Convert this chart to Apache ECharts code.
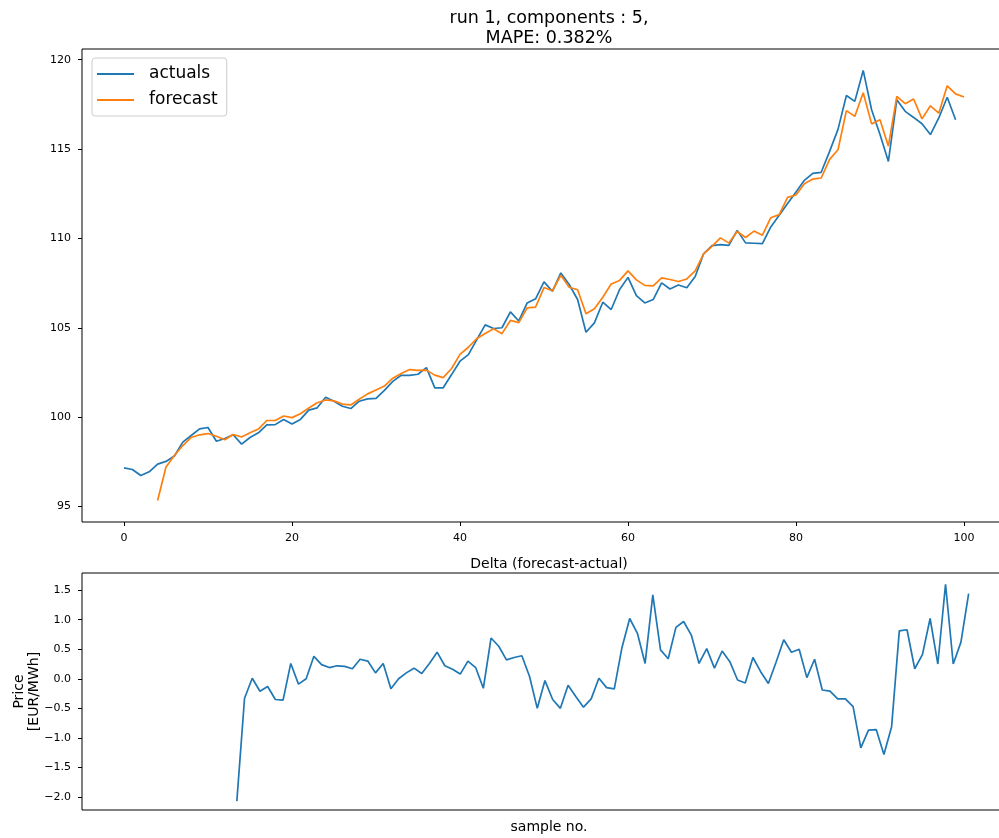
<!DOCTYPE html>
<html>
<head>
<meta charset="utf-8">
<script src="https://cdn.jsdelivr.net/npm/echarts@6/dist/echarts.min.js"></script>
<style>
  html, body { margin: 0; padding: 0; background: #fff; }
  #chart { width: 999px; height: 838px; }
</style>
</head>
<body>
<div id="chart"></div>
<script>
// Actual prices, sample 0..99
const actuals = [
  97.16, 97.07, 96.73, 96.94, 97.37, 97.52, 97.82, 98.60, 98.97, 99.34,
  99.42, 98.65, 98.80, 99.01, 98.49, 98.86, 99.12, 99.57, 99.58, 99.87,
  99.62, 99.87, 100.39, 100.52, 101.11, 100.89, 100.61, 100.48, 100.89, 101.02,
  101.05, 101.50, 102.00, 102.34, 102.34, 102.40, 102.77, 101.64, 101.64, 102.38,
  103.13, 103.50, 104.34, 105.16, 104.96, 105.00, 105.89, 105.38, 106.39, 106.62,
  107.57, 107.04, 108.07, 107.42, 106.58, 104.75, 105.27, 106.43, 106.02, 107.14,
  107.82, 106.80, 106.39, 106.58, 107.51, 107.17, 107.39, 107.24, 107.87, 109.14,
  109.60, 109.65, 109.61, 110.45, 109.75, 109.73, 109.71, 110.64, 111.29, 111.95,
  112.60, 113.25, 113.64, 113.70, 114.87, 116.10, 118.00, 117.67, 119.40, 117.20,
  115.81, 114.31, 117.76, 117.11, 116.77, 116.42, 115.81, 116.74, 117.90, 116.64
];

// Forecast prices, sample 4..100
const forecastStart = 4;
const forecast = [
  95.33, 97.21, 97.85, 98.41, 98.86, 99.01, 99.08, 98.93, 98.73, 99.03,
  98.89, 99.12, 99.33, 99.81, 99.81, 100.06, 99.97, 100.19, 100.51, 100.80,
  100.96, 100.91, 100.73, 100.68, 101.00, 101.30, 101.52, 101.74, 102.18, 102.44,
  102.66, 102.61, 102.63, 102.35, 102.21, 102.72, 103.51, 103.91, 104.40, 104.68,
  104.95, 104.67, 105.41, 105.29, 106.11, 106.16, 107.25, 107.07, 107.94, 107.27,
  107.13, 105.78, 106.06, 106.71, 107.45, 107.65, 108.18, 107.68, 107.37, 107.34,
  107.79, 107.70, 107.59, 107.73, 108.18, 109.14, 109.55, 110.03, 109.75, 110.39,
  110.05, 110.41, 110.18, 111.16, 111.33, 112.30, 112.43, 113.06, 113.32, 113.38,
  114.42, 114.96, 117.15, 116.83, 118.15, 116.41, 116.64, 115.16, 117.95, 117.54,
  117.80, 116.69, 117.42, 117.01, 118.54, 118.09, 117.91
];

// Forecast minus actual on the overlapping samples
const delta = [
  -2.07, -0.33, 0.01, -0.21, -0.13, -0.35, -0.36, 0.26, -0.09, 0.00,
  0.38, 0.24, 0.19, 0.22, 0.21, 0.17, 0.33, 0.30, 0.10, 0.26,
  -0.17, 0.00, 0.10, 0.18, 0.09, 0.26, 0.45, 0.22, 0.16, 0.08,
  0.30, 0.19, -0.16, 0.69, 0.55, 0.32, 0.36, 0.39, 0.04, -0.50,
  -0.03, -0.35, -0.50, -0.11, -0.30, -0.48, -0.34, 0.01, -0.15, -0.17,
  0.53, 1.02, 0.77, 0.26, 1.42, 0.49, 0.34, 0.87, 0.97, 0.74,
  0.26, 0.51, 0.18, 0.47, 0.29, -0.02, -0.07, 0.36, 0.12, -0.08,
  0.28, 0.66, 0.45, 0.50, 0.02, 0.33, -0.19, -0.21, -0.34, -0.34,
  -0.47, -1.17, -0.87, -0.86, -1.28, -0.81, 0.81, 0.83, 0.17, 0.41,
  1.02, 0.25, 1.60, 0.25, 0.62, 1.44
];

const topXTicks = [0, 20, 40, 60, 80, 100];
const topYTicks = [95, 100, 105, 110, 115, 120];
const deltaYTicks = [-2.0, -1.5, -1.0, -0.5, 0.0, 0.5, 1.0, 1.5];

const FONT = 'DejaVu Sans';
const BLUE = '#1f77b4';
const ORANGE = '#ff7f0e';

const fmt1 = v => (v < 0 ? '\u2212' : '') + Math.abs(v).toFixed(1);

const chart = echarts.init(document.getElementById('chart'), null, { renderer: 'canvas' });

function tickedAxis(extra, ticks, formatter, margin) {
  return Object.assign({
    type: 'value',
    axisLine: { show: false, onZero: false },
    splitLine: { show: false },
    axisTick: { show: true, inside: false, length: 4, customValues: ticks, lineStyle: { color: '#000', width: 1 } },
    axisLabel: { color: '#000', fontFamily: FONT, fontSize: 11, margin: margin, customValues: ticks, formatter: formatter }
  }, extra);
}

// Both panels run past the right edge of the canvas, as the frame is cut there
const gridBase = {
  left: 82, width: 924, show: true,
  borderColor: '#000', borderWidth: 1, backgroundColor: 'transparent',
  containLabel: false, outerBoundsMode: 'none'
};

chart.setOption({
  animation: false,
  backgroundColor: '#fff',
  title: [
    {
      text: 'run 1, components : 5,\nMAPE: 0.382%',
      left: 544, top: 3, textAlign: 'center',
      textStyle: { fontFamily: FONT, fontSize: 17.5, fontWeight: 'normal', color: '#000', lineHeight: 20 }
    },
    {
      text: 'Delta (forecast-actual)',
      left: 544, top: 552, textAlign: 'center',
      textStyle: { fontFamily: FONT, fontSize: 14, fontWeight: 'normal', color: '#000' }
    },
    {
      text: 'sample no.',
      left: 544, top: 815, textAlign: 'center',
      textStyle: { fontFamily: FONT, fontSize: 14, fontWeight: 'normal', color: '#000' }
    }
  ],
  legend: {
    data: ['actuals', 'forecast'],
    orient: 'vertical',
    left: 92, top: 58,
    padding: [5, 9, 5, 5],
    itemGap: 4,
    itemWidth: 37, itemHeight: 2,
    icon: 'rect',
    backgroundColor: 'rgba(255,255,255,0.8)',
    borderColor: '#cccccc', borderWidth: 1, borderRadius: 3,
    textStyle: { fontFamily: FONT, fontSize: 17, color: '#000', lineHeight: 22, padding: [0, 0, 0, 10] }
  },
  grid: [
    Object.assign({}, gridBase, { top: 49, height: 473 }),
    Object.assign({}, gridBase, { top: 573, height: 237 })
  ],
  xAxis: [
    tickedAxis({ gridIndex: 0, min: -5, max: 105 }, topXTicks, v => String(v), 11),
    {
      type: 'value', gridIndex: 1, min: -20.1, max: 99.85,
      axisLine: { show: false, onZero: false }, axisTick: { show: false }, axisLabel: { show: false }, splitLine: { show: false }
    }
  ],
  yAxis: [
    tickedAxis({ gridIndex: 0, min: 94.13, max: 120.6 }, topYTicks, v => String(v), 11),
    tickedAxis({
      gridIndex: 1, min: -2.22, max: 1.79,
      name: 'Price\n[EUR/MWh]',
      nameLocation: 'middle', nameGap: 40, nameRotate: 90, nameMoveOverlap: false,
      nameTextStyle: { fontFamily: FONT, fontSize: 14, color: '#000', lineHeight: 15, align: 'center' }
    }, deltaYTicks, fmt1, 11)
  ],
  series: [
    {
      name: 'actuals', type: 'line', xAxisIndex: 0, yAxisIndex: 0,
      data: actuals.map((v, i) => [i, v]),
      symbol: 'none', showSymbol: false,
      lineStyle: { color: BLUE, width: 1.7 }, itemStyle: { color: BLUE }
    },
    {
      name: 'forecast', type: 'line', xAxisIndex: 0, yAxisIndex: 0,
      data: forecast.map((v, i) => [i + forecastStart, v]),
      symbol: 'none', showSymbol: false,
      lineStyle: { color: ORANGE, width: 1.7 }, itemStyle: { color: ORANGE }
    },
    {
      name: 'delta', type: 'line', xAxisIndex: 1, yAxisIndex: 1,
      data: delta.map((v, i) => [i, v]),
      symbol: 'none', showSymbol: false,
      lineStyle: { color: BLUE, width: 1.7 }, itemStyle: { color: BLUE }
    }
  ]
});
</script>
</body>
</html>
